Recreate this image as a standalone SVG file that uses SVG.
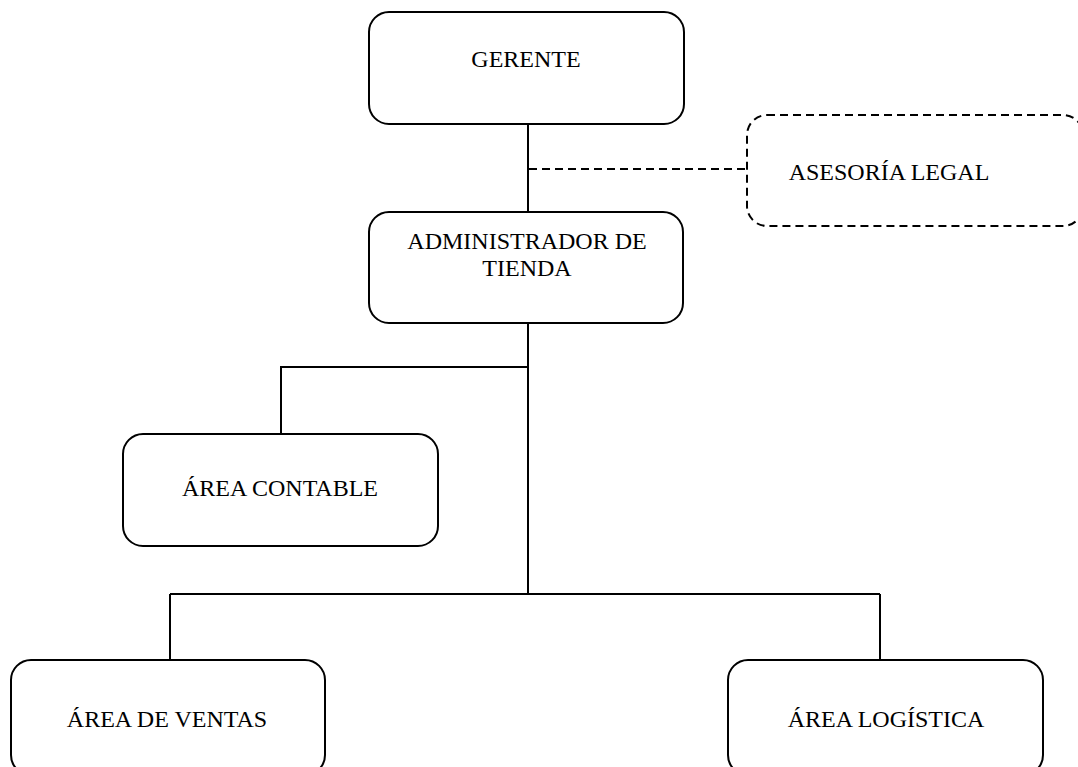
<svg xmlns="http://www.w3.org/2000/svg" width="1078" height="767" viewBox="0 0 1078 767">
<style>
.box{fill:#fff;stroke:#000;stroke-width:2}
.dash{fill:#fff;stroke:#000;stroke-width:2;stroke-dasharray:8 5}
.ln{fill:none;stroke:#000;stroke-width:2}
.dl{fill:none;stroke:#000;stroke-width:2;stroke-dasharray:8 5}
text{font-family:"Liberation Serif","Times New Roman",serif;font-size:24px;fill:#000;text-anchor:middle}
</style>
<rect width="1078" height="767" fill="#fff"/>
<g id="connectors">
<line class="ln" x1="528" y1="124" x2="528" y2="212"/>
<line class="dl" x1="529" y1="169" x2="747" y2="169"/>
<line class="ln" x1="528" y1="323" x2="528" y2="594"/>
<polyline class="ln" points="528,367 281,367 281,434"/>
<line class="ln" x1="170" y1="594" x2="880" y2="594"/>
<line class="ln" x1="170" y1="594" x2="170" y2="663"/>
<line class="ln" x1="880" y1="594" x2="880" y2="661"/>
</g>
<g id="gerente">
<rect class="box" x="369" y="12" width="315" height="112" rx="20"/>
<text x="526" y="67">GERENTE</text>
</g>
<g id="asesoria">
<rect class="dash" x="747" y="115" width="336" height="111" rx="20"/>
<text x="889" y="180">ASESORÍA LEGAL</text>
</g>
<g id="administrador">
<rect class="box" x="369" y="212" width="314" height="111" rx="20"/>
<text x="527" y="249">ADMINISTRADOR DE</text>
<text x="527" y="276">TIENDA</text>
</g>
<g id="contable">
<rect class="box" x="123" y="434" width="315" height="112" rx="20"/>
<text x="280" y="496">ÁREA CONTABLE</text>
</g>
<g id="ventas">
<rect class="box" x="11" y="660" width="314" height="115" rx="20"/>
<text x="167" y="727">ÁREA DE VENTAS</text>
</g>
<g id="logistica">
<rect class="box" x="728" y="660" width="315" height="115" rx="20"/>
<text x="886" y="727">ÁREA LOGÍSTICA</text>
</g>
</svg>
